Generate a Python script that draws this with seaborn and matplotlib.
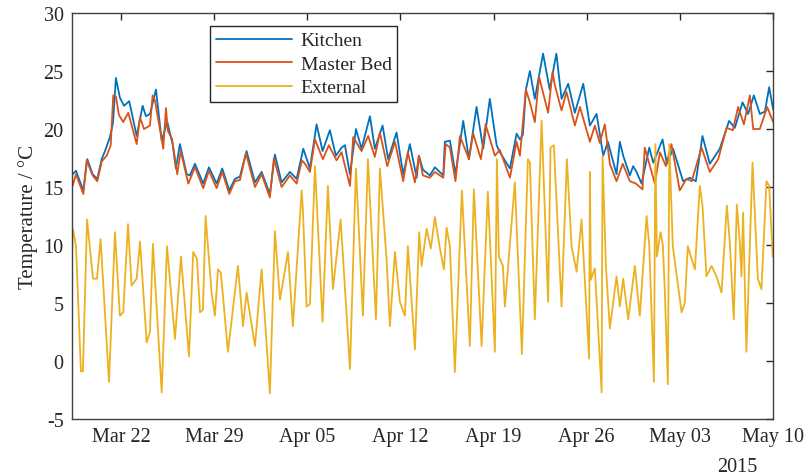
import numpy as np
import pandas as pd
import matplotlib
import matplotlib.pyplot as plt
import matplotlib.dates as mdates
import seaborn as sns

matplotlib.use('Agg')
sns.set_style('white')
plt.rcParams['font.family'] = ['Liberation Serif', 'DejaVu Serif']
plt.rcParams['axes.unicode_minus'] = False

# days since 2015-03-18 00:00 at the turning points
ext_days = [0.30, 0.39, 0.62, 0.99, 1.14, 1.45, 1.90, 2.20, 2.47, 3.10, 3.55, 3.92, 4.17, 4.53, 4.80,
            5.18, 5.43, 5.93, 6.18, 6.40, 7.06, 7.46, 8.06, 8.51, 9.11, 9.43, 9.71, 9.94, 10.16, 10.36,
            10.81, 11.06, 11.29, 11.51, 12.04, 12.79, 13.17, 13.44, 14.07, 14.57, 15.19, 15.57, 15.95,
            16.55, 16.92, 17.58, 17.67, 17.95, 18.20, 18.58, 19.15, 19.55, 19.93, 20.51, 21.21, 21.66,
            22.18, 22.56, 23.16, 23.46, 23.96, 24.21, 24.59, 24.96, 25.34, 25.56, 26.09, 26.41, 26.59,
            26.97, 27.29, 27.59, 27.97, 28.27, 28.47, 28.72, 29.09, 29.62, 30.22, 30.52, 31.10, 31.57,
            32.10, 32.25, 32.40, 32.70, 32.85, 33.60, 34.13, 34.58, 34.73, 35.10, 35.61, 36.10, 36.28,
            36.53, 37.11, 37.51, 37.86, 38.24, 38.61, 39.18, 39.24, 39.31, 39.61, 40.12, 40.19, 40.44,
            40.74, 41.24, 41.49, 41.74, 42.12, 42.62, 42.99, 43.50, 43.70, 44.05, 44.16, 44.27, 44.55,
            44.72, 44.87, 45.10, 45.21, 45.47, 46.13, 46.37, 46.60, 46.88, 47.13, 47.50, 47.70, 48.00,
            48.38, 48.75, 49.13, 49.53, 49.75, 50.05, 50.28, 50.50, 50.63, 50.75, 51.00, 51.46, 51.86,
            52.13, 52.51, 52.71, 52.98]
ext_temp = [8.5, 11.4, 9.9, -0.9, -0.9, 12.2, 7.1, 7.1, 10.5, -1.8, 11.1, 3.9, 4.2, 11.8, 6.5,
            7.1, 10.3, 1.6, 2.5, 10.1, -2.7, 9.9, 1.9, 9.0, 0.4, 9.4, 8.8, 4.2, 4.4, 12.5,
            5.9, 3.9, 7.9, 7.6, 0.8, 8.2, 3.0, 5.9, 1.3, 7.9, -2.8, 11.2, 5.3,
            9.4, 3.0, 14.7, 13.1, 4.7, 4.9, 16.8, 3.4, 15.1, 6.2, 12.2, -0.7, 16.6,
            3.9, 17.4, 3.6, 16.6, 8.8, 3.0, 9.4, 5.1, 3.9, 9.9, 1.0, 11.1, 8.2,
            11.4, 9.7, 12.4, 9.7, 7.9, 11.5, 9.9, -0.95, 14.7, 1.3, 14.8, 1.3, 14.6,
            0.8, 17.4, 9.0, 8.2, 4.7, 15.4, 0.6, 17.4, 17.1, 3.6, 20.7, 5.1, 18.4,
            18.6, 4.7, 17.4, 9.9, 7.7, 12.2, 0.2, 16.3, 7.0, 8.0, -2.7, 17.7, 8.2,
            2.8, 7.3, 4.7, 7.1, 3.6, 8.2, 3.9, 12.5, 10.0, -1.8, 18.7, 9.0, 11.1,
            10.0, 6.0, -2.0, 18.7, 9.9, 4.2, 5.0, 9.9, 8.8, 7.9, 15.1, 13.4, 7.3,
            8.2, 7.3, 5.9, 13.4, 10.3, 3.6, 13.5, 10.3, 7.3, 12.8, 0.8, 17.1, 7.1,
            6.2, 15.5, 15.1, 9.0]

kitchen_days = [0.37, 0.62, 1.17, 1.47, 1.87, 2.22, 2.55, 2.80, 3.17, 3.40, 3.62, 3.92, 4.23, 4.62,
                5.18, 5.63, 5.88, 6.18, 6.63, 7.06, 7.48, 7.88, 8.13, 8.43, 8.94, 9.18, 9.56, 10.18,
                10.61, 11.19, 11.61, 12.14, 12.56, 12.94, 13.44, 14.07, 14.57, 15.19, 15.57, 16.07,
                16.70, 17.20, 17.70, 18.20, 18.70, 19.15, 19.70, 20.15, 20.58, 20.83, 21.21, 21.66,
                22.08, 22.71, 23.08, 23.66, 24.08, 24.71, 25.21, 25.71, 26.22, 26.39, 26.69, 27.21,
                27.59, 28.22, 28.34, 28.72, 29.14, 29.72, 30.15, 30.72, 31.22, 31.72, 32.23, 32.47,
                33.23, 33.73, 33.98, 34.20, 34.43, 34.73, 35.10, 35.72, 36.22, 36.72, 37.11, 37.61,
                38.11, 38.74, 39.24, 39.74, 40.24, 40.59, 41.24, 41.49, 41.74, 42.24, 42.49, 42.74,
                43.12, 43.70, 44.00, 44.70, 45.02, 45.49, 46.24, 46.75, 47.20, 47.70, 48.25, 49.00,
                49.70, 50.13, 50.71, 51.13, 51.56, 52.01, 52.39, 52.71, 53.01]
kitchen_temp = [16.1, 16.4, 14.7, 17.4, 16.1, 15.7, 17.4, 18.1, 19.3, 20.5, 24.4, 22.7, 22.0, 22.4,
                19.4, 22.0, 21.1, 21.3, 23.4, 19.0, 20.6, 18.7, 16.6, 18.7, 16.1, 16.0, 17.0, 15.3,
                16.7, 15.3, 16.6, 14.7, 15.7, 15.9, 18.1, 15.4, 16.3, 14.4, 17.8, 15.4,
                16.3, 15.7, 18.3, 16.6, 20.4, 18.1, 19.9, 17.7, 18.4, 18.6, 16.1, 20.0,
                18.3, 21.1, 18.3, 20.3, 17.4, 19.7, 16.1, 18.7, 15.8, 17.7, 16.5, 16.0,
                16.7, 16.0, 18.9, 19.0, 16.1, 20.7, 17.4, 21.9, 18.3, 22.6, 18.6, 18.0,
                16.6, 19.6, 19.1, 19.5, 23.4, 25.0, 22.6, 26.5, 23.4, 26.5, 22.6, 23.9,
                21.4, 23.9, 20.3, 21.3, 17.7, 18.9, 16.1, 18.9, 17.7, 16.0, 16.8, 16.3,
                15.3, 18.4, 17.1, 19.1, 17.0, 18.3, 15.5, 15.8, 15.5, 19.4, 17.0, 18.3,
                20.7, 20.1, 22.3, 21.3, 22.9, 21.3, 21.5, 23.6, 21.7]

bed_days = [0.37, 0.62, 1.17, 1.42, 1.87, 2.22, 2.55, 2.93, 3.23, 3.42, 3.62, 3.85, 4.17, 4.55,
            5.18, 5.43, 5.73, 6.18, 6.38, 6.55, 7.18, 7.38, 7.53, 7.83, 8.23, 8.49, 9.06, 9.56,
            10.18, 10.61, 11.19, 11.61, 12.14, 12.56, 12.94, 13.39, 14.07, 14.57, 15.19, 15.49,
            16.07, 16.70, 17.20, 17.60, 17.83, 18.20, 18.58, 19.17, 19.62, 20.20, 20.58, 21.21,
            21.45, 22.08, 22.58, 23.08, 23.46, 24.01, 24.59, 25.21, 25.56, 26.09, 26.39, 26.69,
            27.21, 27.59, 28.22, 28.40, 28.72, 29.14, 29.47, 30.15, 30.47, 31.05, 31.40, 32.10,
            32.47, 33.23, 33.73, 33.98, 34.43, 34.73, 35.10, 35.42, 36.10, 36.43, 36.60, 37.11,
            37.48, 38.11, 38.49, 39.24, 39.61, 39.98, 40.36, 40.74, 41.24, 41.71, 42.24, 42.69,
            43.19, 43.36, 44.12, 44.50, 44.95, 45.37, 45.99, 46.49, 46.89, 47.63, 48.25, 48.88,
            49.51, 49.98, 50.38, 50.81, 51.26, 51.51, 52.01, 52.56, 53.01]
bed_temp = [15.1, 16.1, 14.4, 17.3, 16.0, 15.5, 17.2, 17.7, 18.6, 22.9, 22.8, 21.2, 20.6, 21.4,
            18.7, 21.0, 20.0, 20.3, 22.9, 22.5, 18.3, 21.8, 19.8, 19.2, 16.1, 18.1, 15.3, 16.7,
            14.9, 16.4, 14.9, 16.3, 14.4, 15.5, 15.6, 17.9, 15.0, 16.1, 14.1, 17.5,
            15.0, 16.0, 15.3, 17.3, 17.0, 16.3, 19.1, 17.4, 18.6, 17.3, 18.0, 15.1,
            19.3, 18.1, 19.4, 17.6, 19.7, 16.8, 18.9, 15.5, 18.0, 15.4, 17.7, 16.0,
            15.8, 16.3, 15.8, 18.7, 18.4, 15.5, 19.4, 17.4, 19.6, 17.4, 20.4, 17.7,
            18.2, 15.8, 18.9, 17.7, 23.4, 22.3, 20.6, 24.5, 21.4, 24.9, 23.8, 21.6,
            23.2, 20.3, 21.9, 18.9, 20.3, 18.8, 20.4, 17.0, 15.5, 17.0, 15.5, 15.3,
            14.8, 18.4, 15.3, 18.0, 16.8, 18.7, 14.7, 15.7, 15.5, 18.4, 16.3, 17.4,
            20.1, 19.9, 21.9, 20.4, 22.9, 20.0, 20.0, 21.9, 20.6]

start = pd.Timestamp('2015-03-18')
series = [('Kitchen', kitchen_days, kitchen_temp, '#0072BD'),
          ('Master Bed', bed_days, bed_temp, '#D95319'),
          ('External', ext_days, ext_temp, '#EDB120')]

fig = plt.figure(figsize=(8.08, 4.77), dpi=100)
ax = fig.add_axes([0.0891, 0.1195, 0.8676, 0.8511])

for name, days, temps, color in series:
    df = pd.DataFrame({'time': start + pd.to_timedelta(days, unit='D'), 'temp': temps})
    sns.lineplot(data=df, x='time', y='temp', ax=ax, color=color, linewidth=1.3,
                 label=name, sort=False, estimator=None)

ax.set_xlim(start + pd.Timedelta(days=0.32), pd.Timestamp('2015-05-10'))
ax.set_ylim(-5, 30)
ax.set_yticks(np.arange(-5, 31, 5))
ax.set_xticks(pd.date_range('2015-03-22', '2015-05-10', freq='7D'))
ax.xaxis.set_major_formatter(mdates.DateFormatter('%b %d'))
ax.set_xlabel('')
ax.set_ylabel('Temperature / °C', fontsize=15)
ax.tick_params(axis='both', direction='in', length=5, width=1, top=True, right=True,
               labelsize=14.5, colors='#262626', pad=6)
for s in ax.spines.values():
    s.set_color('#404040')
    s.set_linewidth(1.0)

ax.text(0.977, -0.093, '2015', transform=ax.transAxes, ha='right', va='top',
        fontsize=14.5, color='#262626')

leg = ax.legend(loc='upper left', bbox_to_anchor=(0.197, 0.968), fontsize=14,
                frameon=True, fancybox=False, edgecolor='#262626', framealpha=1,
                handlelength=3.9, borderpad=0.3, labelspacing=0.3, handletextpad=0.45,
                borderaxespad=0)
leg.get_frame().set_linewidth(1.0)

plt.savefig('out.png', dpi=100)
plt.close()
